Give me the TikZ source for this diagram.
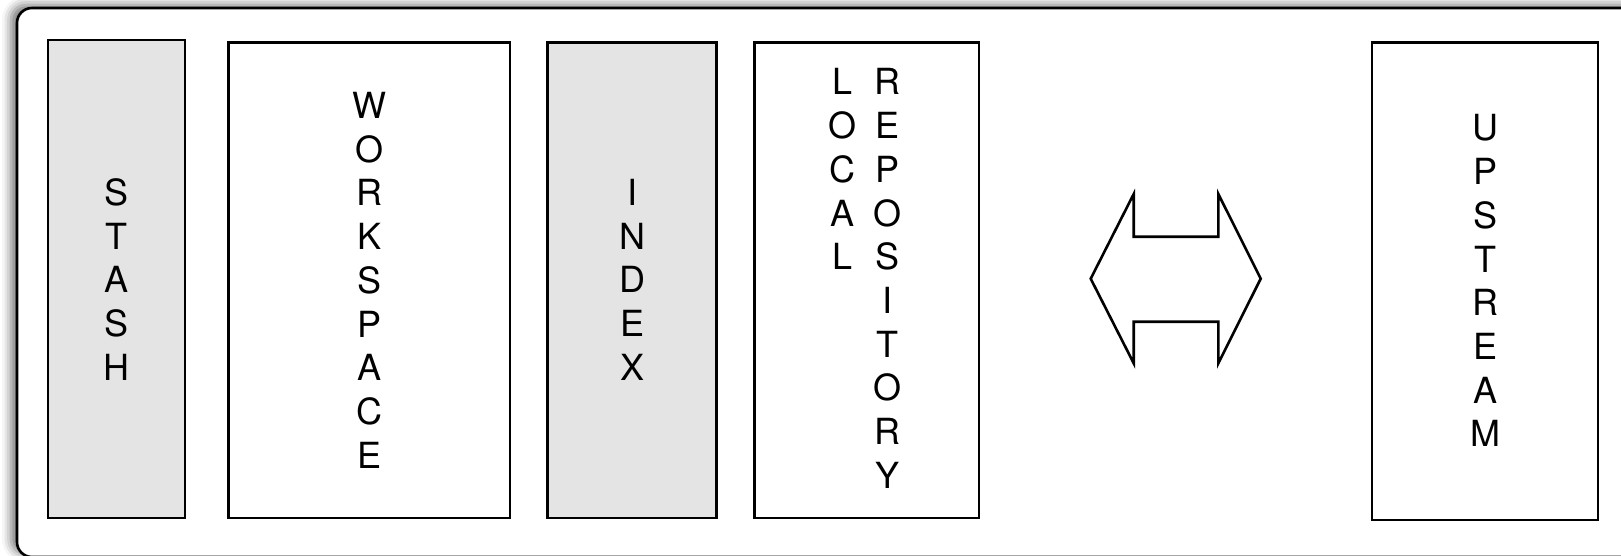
\documentclass[tikz,border=0pt]{standalone}
\usepackage{fontspec}
\setmainfont{TeX Gyre Heros}
\usetikzlibrary{shadows.blur}
\tikzset{
  box/.style={draw=black, line width=2.6pt},
  graybox/.style={box, fill=boxgray},
  lbl/.style={anchor=base, inner sep=0pt, font=\fontsize{36}{43.7}\selectfont},
  frame/.style={draw=black, line width=2.6pt, fill=white, rounded corners=15pt,
    blur shadow={shadow xshift=-6pt, shadow yshift=3pt, shadow blur radius=9pt, shadow opacity=55}},
  arrowshape/.style={draw=black, line width=2.6pt, line join=miter, fill=white}
}
\definecolor{boxgray}{HTML}{E4E4E4}
\begin{document}
\begin{tikzpicture}[x=1pt,y=-1pt]
\useasboundingbox (0,0) rectangle (1621,556);
\clip (0,0) rectangle (1621,556);
% outer frame
\path[frame] (17,8) rectangle (1660,557);
% boxes
\path[graybox] (48,40) rectangle (185,518);
\path[box] (228.7,42.7) rectangle (510,518);
\path[graybox] (547.7,42.7) rectangle (716.7,518);
\path[box] (754.3,42.7) rectangle (979,518);
\path[box] (1372,42.7) rectangle (1598,520);
% texts
\def\pitch{43.7}
\foreach \l [count=\i] in {S,T,A,S,H}
  \node[lbl] (stash\i) at (116.5,{205.5+(\i-1)*\pitch}) {\l};
\foreach \l [count=\i] in {W,O,R,K,S,P,A,C,E}
  \node[lbl] (work\i) at (369.3,{118.5+(\i-1)*\pitch}) {\l};
\foreach \l [count=\i] in {I,N,D,E,X}
  \node[lbl] (index\i) at (632.2,{205.5+(\i-1)*\pitch}) {\l};
\foreach \l [count=\i] in {L,O,C,A,L}
  \node[lbl] (local\i) at (842,{95+(\i-1)*\pitch}) {\l};
\foreach \l [count=\i] in {R,E,P,O,S,I,T,O,R,Y}
  \node[lbl] (repo\i) at (887.5,{95+(\i-1)*\pitch}) {\l};
\foreach \l [count=\i] in {U,P,S,T,R,E,A,M}
  \node[lbl] (up\i) at (1485,{141+(\i-1)*\pitch}) {\l};
% double arrow
\path[arrowshape] (1090.7,278.7) -- (1133.7,194) -- (1133.7,236.7) -- (1218.3,236.7)
  -- (1218.3,194) -- (1260.7,278.7) -- (1218.3,363.3) -- (1218.3,321.7)
  -- (1133.7,321.7) -- (1133.7,363.3) -- cycle;
\end{tikzpicture}
\end{document}
